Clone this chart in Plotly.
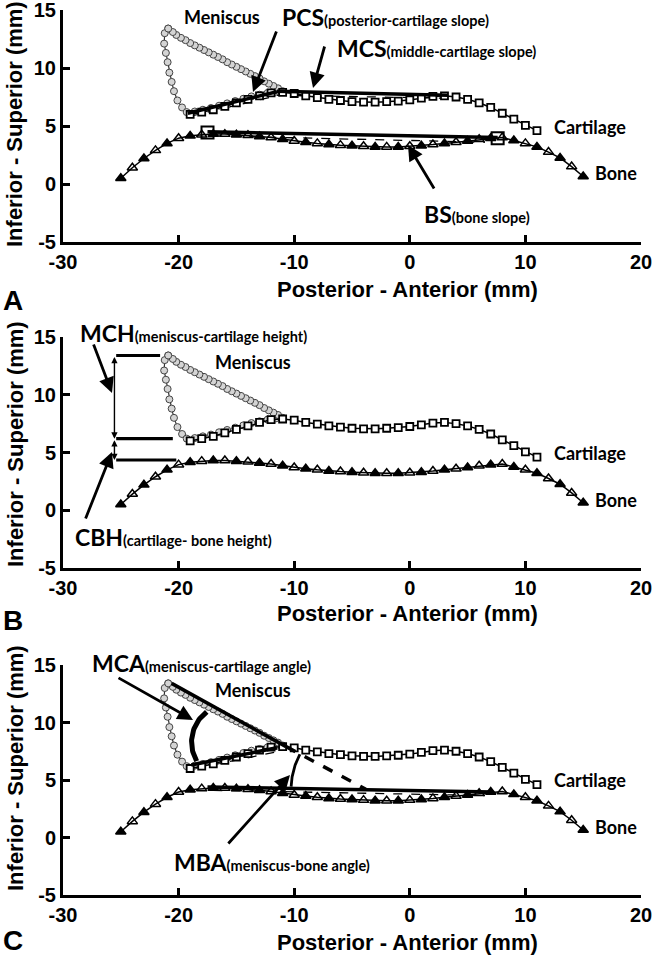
import numpy as np
import plotly.graph_objects as go

W, H = 653, 960

# ---------------- data ----------------
bone_x = [-25, -24, -23, -22, -21, -20, -19, -18, -17, -16, -15, -14, -13, -12, -11,
          -10, -9, -8, -7, -6, -5, -4, -3, -2, -1, 0, 1, 2, 3, 4, 5, 6, 7, 8, 9,
          10, 11, 12, 13, 14, 15]
bone_y = [0.5, 1.4, 2.2, 2.9, 3.5, 3.95, 4.15, 4.25, 4.3, 4.3, 4.25, 4.2, 4.1, 4.0, 3.85,
          3.7, 3.6, 3.5, 3.4, 3.35, 3.3, 3.25, 3.2, 3.2, 3.2, 3.25, 3.3, 3.4, 3.5, 3.6,
          3.7, 3.85, 3.95, 4.0, 3.75, 3.5, 3.2, 2.75, 2.25, 1.5, 0.65]

cart_x = [-19, -18, -17, -16, -15, -14, -13, -12, -11, -10, -9, -8, -7, -6, -5, -4,
          -3, -2, -1, 0, 1, 2, 3, 4, 5, 6, 7, 8, 9, 10, 11]
cart_y = [6.0, 6.2, 6.4, 6.7, 7.0, 7.3, 7.6, 7.85, 7.9, 7.8, 7.6, 7.45, 7.3, 7.2, 7.1,
          7.05, 7.05, 7.1, 7.15, 7.25, 7.4, 7.55, 7.6, 7.5, 7.3, 7.0, 6.6, 6.1, 5.6,
          5.05, 4.6]

men_x = [-20.9, -21.2, -21.25, -21.1, -20.95, -20.8, -20.6, -20.4, -20.1, -19.7, -19.3,
         -18.6, -17.9, -17.2, -16.5, -15.8, -15.1, -14.4, -13.7, -13.0, -12.3, -11.6, -11.0,
         -11.4, -11.8, -12.2, -12.6, -13.0, -13.4, -13.8, -14.2, -14.6, -15.0, -15.4, -15.8,
         -16.2, -16.6, -17.0, -17.4, -17.8, -18.2, -18.6, -19.0, -19.4, -19.8, -20.2, -20.5,
         -20.9]
men_y = [13.4, 13.0, 12.1, 11.3, 10.5, 9.6, 8.8, 8.0, 7.2, 6.6, 6.2,
         6.25, 6.4, 6.55, 6.75, 6.95, 7.15, 7.35, 7.55, 7.7, 7.85, 7.95, 8.0,
         8.25, 8.45, 8.65, 8.85, 9.1, 9.3, 9.5, 9.7, 9.9, 10.1, 10.3, 10.5,
         10.75, 10.95, 11.15, 11.35, 11.55, 11.75, 11.95, 12.15, 12.4, 12.6, 12.85, 13.1,
         13.4]

x_ticks = [-30, -20, -10, 0, 10, 20]
x_tick_text = ["-30", "-20", "-10", "0", "10", "20"]
y_ticks = [-5, 0, 5, 10, 15]
y_tick_text = ["-5", "0", "5", "10", "15"]

# measurement construction lines (panel A)
pcs_solid = ([-19.2, -11.5], [6.1, 7.95])
pcs_dash = ([-19.0, -11.5], [5.85, 7.6])
mcs_solid = ([-11.5, 3.3], [8.0, 7.65])
mcs_dash = ([-11.5, 3.0], [7.65, 7.4])
bs_solid = ([-17.5, 7.6], [4.5, 4.0])
bs_dash = ([-17.0, 6.5], [4.15, 3.6])
bs_ends = ([-17.5, 7.6], [4.45, 3.95])
# panel B
h_levels = [13.4, 6.2, 4.35]
h_ends = [-21.6, -20.5, -20.2]
h_start = -25.4
v_x = -25.55
# panel C
mca_top = ([-20.6, -10.7], [13.4, 7.9])
mca_ext = ([-10.7, -3.8], [7.9, 4.2])
mca_bot = ([-18.9, -11.5], [6.3, 7.8])
mca_bot_dash = ([-18.6, -11.0], [6.0, 7.55])
mba_bone = ([-17.5, 7.2], [4.4, 3.95])
mba_bone_dash = ([-17.0, 6.5], [4.1, 3.65])
mca_arc = dict(cx=-15.58, cy=8.29, r=3.3, a0=127, a1=210)
mba_arc = dict(cx=-3.77, cy=4.19, r=6.5, a0=152, a1=178)

# ---------------- layout helpers ----------------
XDOM = [63 / W, 641 / W]
YDOMS = [[1 - 242 / H, 1 - 10 / H], [1 - 568 / H, 1 - 337 / H], [1 - 895 / H, 1 - 665 / H]]

fig = go.Figure()

BOLD_SANS = "Liberation Sans, Arial, sans-serif"
LABEL_FONT = "Lato, Carlito, Calibri, sans-serif"


def P(px, py):
    return px / W, 1 - py / H


def add_line(k, xy, width=3.5, dash="solid", color="black"):
    fig.add_trace(go.Scatter(x=xy[0], y=xy[1], mode="lines", xaxis=f"x{k}", yaxis=f"y{k}",
                             line=dict(color=color, width=width, dash=dash),
                             showlegend=False, hoverinfo="skip"))


def add_arc(k, a, width):
    t = np.radians(np.linspace(a["a0"], a["a1"], 40))
    fig.add_trace(go.Scatter(x=a["cx"] + a["r"] * np.cos(t), y=a["cy"] + a["r"] * np.sin(t),
                             mode="lines", xaxis=f"x{k}", yaxis=f"y{k}",
                             line=dict(color="black", width=width), showlegend=False,
                             hoverinfo="skip"))


tri_symbols = ["triangle-up" if i % 2 == 0 else "triangle-up-open" for i in range(len(bone_x))]

annotations = []


def label(px, py, text, size=18):
    x, y = P(px, py)
    annotations.append(dict(x=x, y=y, xref="paper", yref="paper", xanchor="left",
                            yanchor="middle", showarrow=False, text=text,
                            font=dict(family=LABEL_FONT, size=size, color="black")))


def measure(px, py, abbr, desc, big=23, small=14.5):
    label(px, py, f"<b>{abbr}</b><span style='font-size:{small}px'><b>({desc})</b></span>", big)


def arrow(tail, head, width=2.8):
    x, y = P(*head)
    annotations.append(dict(x=x, y=y, xref="paper", yref="paper", showarrow=True, text="",
                            ax=tail[0] - head[0], ay=tail[1] - head[1],
                            arrowhead=2, arrowsize=1.1, arrowwidth=width, arrowcolor="black"))


for k in (1, 2, 3):
    ks = "" if k == 1 else str(k)
    if k == 1:
        add_line(ks, pcs_dash, 1.3, "dash")
        add_line(ks, mcs_dash, 1.3, "dash")
        add_line(ks, bs_dash, 1.3, "dash")
    if k == 3:
        add_line(ks, mca_bot_dash, 1.3, "dash")
        add_line(ks, mba_bone_dash, 1.3, "dash")

    fig.add_trace(go.Scatter(x=men_x, y=men_y, mode="lines+markers", xaxis=f"x{ks}", yaxis=f"y{ks}",
                             line=dict(color="#333333", width=1.2),
                             marker=dict(symbol="circle", size=7, color="#d4d4d4",
                                         line=dict(color="#444444", width=1)),
                             showlegend=False, name="Meniscus"))
    fig.add_trace(go.Scatter(x=cart_x, y=cart_y, mode="lines+markers", xaxis=f"x{ks}", yaxis=f"y{ks}",
                             line=dict(color="black", width=1.5),
                             marker=dict(symbol="square", size=7, color="white",
                                         line=dict(color="black", width=1.8)),
                             showlegend=False, name="Cartilage"))
    fig.add_trace(go.Scatter(x=bone_x, y=bone_y, mode="lines+markers", xaxis=f"x{ks}", yaxis=f"y{ks}",
                             line=dict(color="black", width=1.5),
                             marker=dict(symbol=tri_symbols, size=9, color="black",
                                         line=dict(color="black", width=1.5)),
                             showlegend=False, name="Bone"))

    if k == 1:
        add_line(ks, pcs_solid, 3.5)
        add_line(ks, mcs_solid, 3.5)
        add_line(ks, bs_solid, 3.5)
        fig.add_trace(go.Scatter(x=bs_ends[0], y=bs_ends[1], mode="markers", xaxis="x", yaxis="y",
                                 marker=dict(symbol="square-open", size=12, color="black",
                                             line=dict(width=2)),
                                 showlegend=False, hoverinfo="skip"))
    if k == 2:
        for lev, xe in zip(h_levels, h_ends):
            add_line(ks, ([h_start, xe], [lev, lev]), 3.2)
    if k == 3:
        add_line(ks, mca_top, 3.5)
        add_line(ks, mca_ext, 3.5, "dash")
        add_line(ks, mca_bot, 3.5)
        add_line(ks, mba_bone, 3.5)
        add_arc(ks, mca_arc, 5)
        add_arc(ks, mba_arc, 2.8)

# vertical double-headed arrows (panel B)
for (y0, y1) in [(h_levels[0], h_levels[1]), (h_levels[1], h_levels[2])]:
    annotations.append(dict(x=v_x, y=y1, ax=v_x, ay=y0, xref="x2", yref="y2", axref="x2",
                            ayref="y2", showarrow=True, text="", arrowhead=2, arrowsize=0.9,
                            arrowwidth=1.4, arrowside="end+start", arrowcolor="black"))

# ---- panel A texts ----
label(182, 17, "<b>Meniscus</b>", 18)
measure(280, 17, "PCS", "posterior-cartilage slope")
measure(335, 48, "MCS", "middle-cartilage slope")
measure(422, 214, "BS", "bone slope")
arrow((277, 30), (253, 92))
arrow((325, 45), (313, 88))
arrow((435, 190), (408, 145))
# ---- panel B texts ----
label(213, 362, "<b>Meniscus</b>", 18)
measure(78, 333, "MCH", "meniscus-cartilage height")
measure(73, 537, "CBH", "cartilage- bone height")
arrow((93, 343), (112, 393))
arrow((85, 520), (112, 452))
# ---- panel C texts ----
label(213, 690, "<b>Meniscus</b>", 18)
measure(90, 663, "MCA", "meniscus-cartilage angle")
measure(172, 862, "MBA", "meniscus-bone angle")
arrow((117, 677), (193, 720))
arrow((227, 845), (290, 775))

for (cy_c, cy_b) in [(127, 173), (453, 500), (780, 827)]:
    label(552, cy_c, "<b>Cartilage</b>", 18)
    label(593, cy_b, "<b>Bone</b>", 18)

# axis titles + panel letters
for (ytc, xtc, letter_y, L) in [(124, 290, 300, "A"), (444, 613, 620, "B"), (768, 942, 940, "C")]:
    x, y = P(15, ytc)
    annotations.append(dict(x=x, y=y, xref="paper", yref="paper", showarrow=False,
                            text="<b>Inferior - Superior (mm)</b>", textangle=-90,
                            xanchor="center", yanchor="middle",
                            font=dict(family=BOLD_SANS, size=22, color="black")))
    x, y = P(407, xtc)
    annotations.append(dict(x=x, y=y, xref="paper", yref="paper", showarrow=False,
                            text="<b>Posterior - Anterior (mm)</b>",
                            xanchor="center", yanchor="middle",
                            font=dict(family=BOLD_SANS, size=22, color="black")))
    x, y = P(13, letter_y)
    annotations.append(dict(x=x, y=y, xref="paper", yref="paper", showarrow=False,
                            text=f"<b>{L}</b>", xanchor="center", yanchor="middle",
                            font=dict(family=BOLD_SANS, size=28, color="black")))

axis_common = dict(showline=True, linewidth=3, linecolor="black", ticks="inside", ticklen=7,
                   tickwidth=3, tickcolor="black", showgrid=False, zeroline=False,
                   automargin=False, ticklabeloverflow="allow",
                   tickfont=dict(family=BOLD_SANS, size=20, color="black", weight="bold"))

layout = dict(width=W, height=H, margin=dict(l=0, r=0, t=0, b=0), plot_bgcolor="white",
              paper_bgcolor="white", showlegend=False, annotations=annotations)
for k in (1, 2, 3):
    ks = "" if k == 1 else str(k)
    layout[f"xaxis{ks}"] = dict(domain=XDOM, range=[-30, 20], tickvals=x_ticks,
                                ticktext=x_tick_text, anchor=f"y{ks}", **axis_common)
    layout[f"yaxis{ks}"] = dict(domain=YDOMS[k - 1], range=[-5, 15], tickvals=y_ticks,
                                ticktext=y_tick_text, anchor=f"x{ks}", **axis_common)

fig.update_layout(**layout)
fig.write_html("out.html", config={"displayModeBar": False},
               post_script="document.body.style.margin='0px';document.body.style.overflow='hidden';")
